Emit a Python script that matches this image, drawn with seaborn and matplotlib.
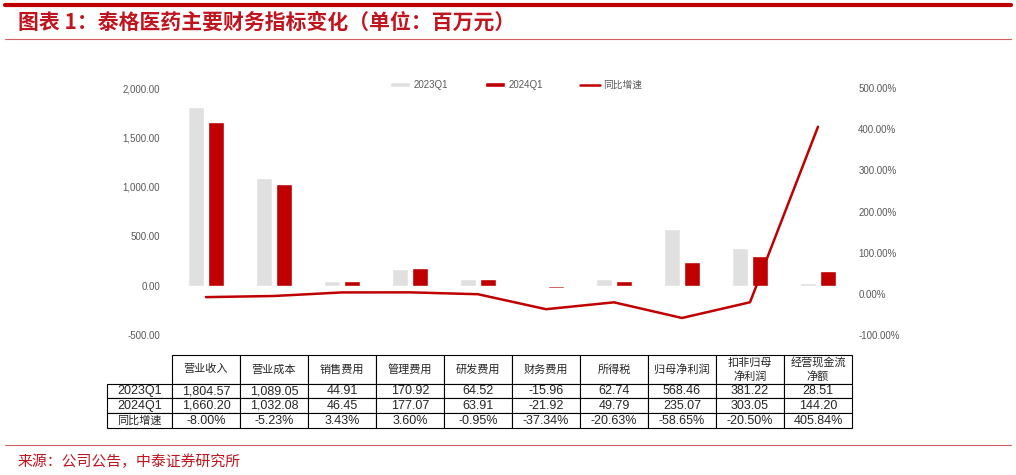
import matplotlib
import matplotlib.pyplot as plt
import matplotlib.ticker as mticker
from matplotlib.lines import Line2D
from matplotlib.patches import Patch
import seaborn as sns
import numpy as np
import pandas as pd
matplotlib.use("Agg")

categories = ["营业收入", "营业成本", "销售费用", "管理费用", "研发费用",
              "财务费用", "所得税", "归母净利润", "扣非归母\n净利润", "经营现金流\n净额"]
q1_2023 = [1804.57, 1089.05, 44.91, 170.92, 64.52, -15.96, 62.74, 568.46, 381.22, 28.51]
q1_2024 = [1660.20, 1032.08, 46.45, 177.07, 63.91, -21.92, 49.79, 235.07, 303.05, 144.20]
yoy = [-8.00, -5.23, 3.43, 3.60, -0.95, -37.34, -20.63, -58.65, -20.50, 405.84]
series_names = ["2023Q1", "2024Q1", "同比增速"]
row_labels = ["2023Q1", "2024Q1", "同比增速"]

RED = "#c00000"
GRAY = "#e0e0e0"
TXT = "#595959"


def main():
    sns.set_style("white")
    plt.rcParams["font.family"] = ["Liberation Sans", "Noto Sans CJK SC"]

    df = pd.DataFrame({
        "cat": categories * 2,
        "val": q1_2023 + q1_2024,
        "period": [series_names[0]] * 10 + [series_names[1]] * 10,
    })

    W, H = 1016, 475
    fig = plt.figure(figsize=(W / 100, H / 100), dpi=100)
    ax = fig.add_axes([172 / W, 1 - 335 / H, 680 / W, 247 / H])

    sns.barplot(data=df, x="cat", y="val", hue="period", ax=ax,
                palette=[GRAY, RED], width=0.58, gap=0.2, legend=False,
                saturation=1, errorbar=None)
    ax.set_xlim(-0.5, 9.5)
    ax.set_ylim(-500, 2000)
    ax.set_yticks([-500, 0, 500, 1000, 1500, 2000])
    ax.yaxis.set_major_formatter(mticker.FuncFormatter(lambda v, p: f"{v:,.2f}"))
    ax.set_xticks([])
    ax.set_xlabel("")
    ax.set_ylabel("")
    ax.tick_params(axis="y", length=0, pad=8.5, labelsize=7, labelcolor=TXT)

    ax2 = ax.twinx()
    sns.lineplot(x=np.arange(len(yoy)), y=yoy, ax=ax2, color=RED, linewidth=1.8)
    ax2.set_ylim(-100, 500)
    ax2.set_yticks([-100, 0, 100, 200, 300, 400, 500])
    ax2.yaxis.set_major_formatter(mticker.FuncFormatter(lambda v, p: f"{v:.2f}%"))
    ax2.tick_params(axis="y", length=0, pad=4.5, labelsize=7, labelcolor=TXT)
    ax2.set_ylabel("")
    ax2.set_xlim(-0.5, 9.5)
    for a in (ax, ax2):
        for s in a.spines.values():
            s.set_visible(False)

    handles = [Patch(facecolor=GRAY), Patch(facecolor=RED),
               Line2D([0], [0], color=RED, linewidth=1.8)]
    fig.legend(handles, series_names, loc="center",
               bbox_to_anchor=(516 / W, 1 - 85 / H), ncol=3, frameon=False,
               fontsize=7, labelcolor=TXT, handlelength=2.1, handleheight=0.5,
               handletextpad=0.3, columnspacing=3.8)

    # data table under the chart
    rows = [[f"{v:,.2f}" for v in q1_2023],
            [f"{v:,.2f}" for v in q1_2024],
            [f"{v:.2f}%" for v in yoy]]
    tb = ax.table(cellText=rows, rowLabels=row_labels, colLabels=categories,
                  cellLoc="center", rowLoc="center", colLoc="center",
                  colWidths=[0.1] * 10,
                  bbox=[0, (335 - 428) / 247, 1, 73 / 247])
    tb._autoColumns = [c for c in tb._autoColumns if c != -1]
    tb.auto_set_font_size(False)
    for (r, c), cell in tb.get_celld().items():
        cell.set_linewidth(0.8)
        cell.set_edgecolor("black")
        cell.set_height(29 if r == 0 else 15)
        if c == -1:
            cell.set_width(0.1 * 65 / 68)
        t = cell.get_text()
        if r == 0 or (c == -1 and r == 3):
            t.set_fontsize(8)
            t.set_linespacing(1.4)
        else:
            t.set_fontsize(9)

    # header / footer decorations
    fig.add_artist(Line2D([5 / W, 1011 / W], [1 - 5 / H] * 2, color=RED, linewidth=3))
    fig.add_artist(Line2D([5 / W, 1011 / W], [1 - 39 / H] * 2, color="#d06060", linewidth=0.8))
    fig.add_artist(Line2D([5 / W, 1011 / W], [1 - 445 / H] * 2, color="#d06060", linewidth=0.8))
    fig.text(18 / W, 1 - 22 / H, "图表 1：泰格医药主要财务指标变化（单位：百万元）",
             color="#c0141e", fontsize=15, fontweight="bold", va="center",
             family=["Noto Sans CJK SC", "DejaVu Sans"])
    fig.text(18 / W, 1 - 462 / H, "来源：公司公告，中泰证券研究所",
             color="#c0141e", fontsize=10.7, va="center",
             family=["Noto Sans CJK SC", "DejaVu Sans"])

    fig.savefig("out.png", dpi=100)
    plt.close(fig)


if __name__ == "__main__":
    main()
